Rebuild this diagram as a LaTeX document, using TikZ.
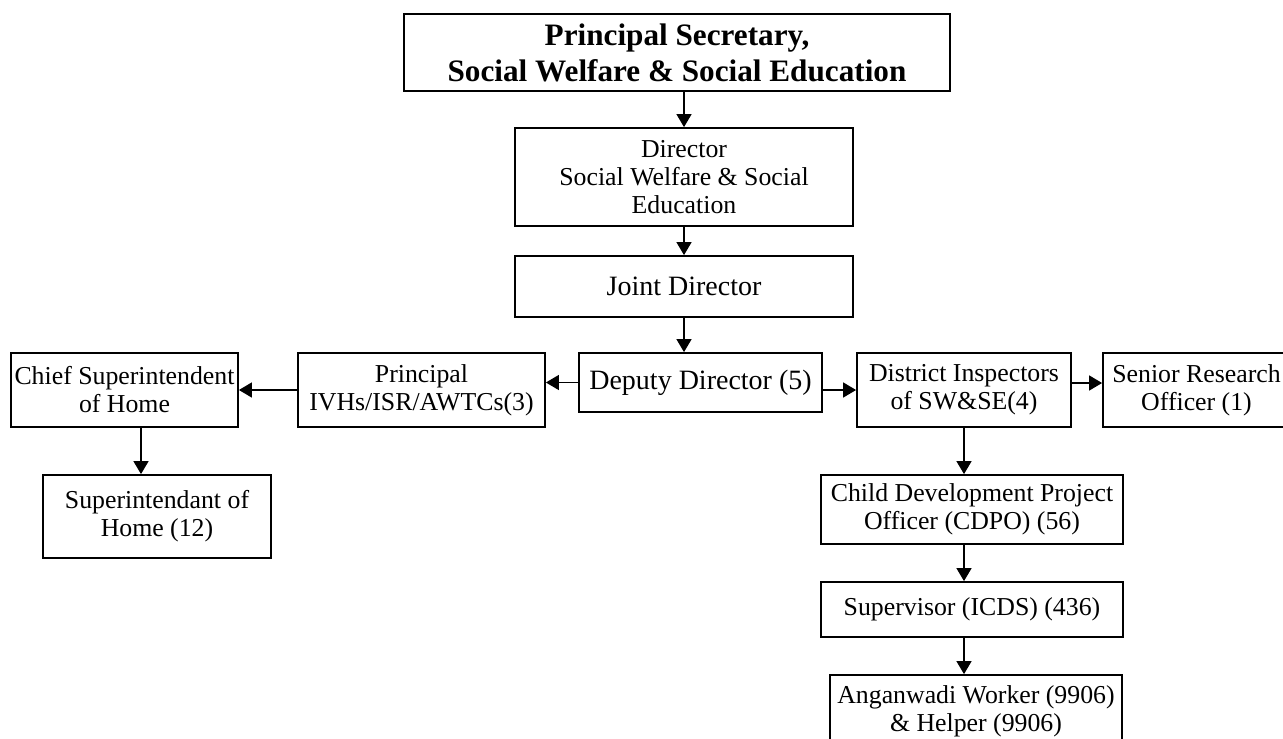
\documentclass[tikz,border=0pt]{standalone}
\usepackage{fontspec}
\setmainfont{Liberation Serif}
\usetikzlibrary{arrows.meta}

\newcommand{\boxfont}{\fontsize{12.9}{14}\selectfont}
\newcommand{\bigboxfont}{\fontsize{14}{16}\selectfont}
\newcommand{\headfont}{\fontsize{15.6}{18}\selectfont\bfseries}

\tikzset{
  post/.style={draw, line width=0.9pt, align=center, inner sep=0pt, font=\boxfont},
  link/.style={line width=0.7pt, -{Triangle[length=6.5pt,width=7.5pt]}}
}

\begin{document}
\begin{tikzpicture}[x=0.5pt,y=-0.5pt]
  \useasboundingbox (0,0) rectangle (1283,738);
  % -=-=-=-=- TOP OF THE CHAIN -=-=-=-=-
  \node[post, line width=1.2pt, font=\headfont, minimum width=273pt, minimum height=38.5pt] (sec) at (677,52.5) {Principal Secretary,\\Social Welfare \& Social Education};
  \node[post, minimum width=169pt, minimum height=49pt] (dir) at (684,177) {Director\\Social Welfare \& Social\\Education};
  \node[post, font=\bigboxfont, minimum width=169pt, minimum height=30.5pt] (joint) at (684,286.5) {Joint Director};
  \node[post, font=\bigboxfont, minimum width=121.5pt, minimum height=29.5pt] (dep) at (700.5,382.5) {Deputy Director (5)};
  % -=-=-=-=- LEFT BRANCH -=-=-=-=-
  \node[post, minimum width=123.5pt, minimum height=37pt] (prin) at (421.5,390) {Principal\\IVHs/ISR/AWTCs(3)};
  \node[post, minimum width=113.5pt, minimum height=37pt] (chief) at (124.5,390) {Chief Superintendent\\of Home};
  \node[post, minimum width=114pt, minimum height=41.5pt] (supt) at (157,516.5) {Superintendant of\\Home (12)};
  % -=-=-=-=- RIGHT BRANCH -=-=-=-=-
  \node[post, minimum width=107pt, minimum height=37pt] (dist) at (964,390) {District Inspectors\\of SW\&SE(4)};
  \node[post, minimum width=93.5pt, minimum height=37pt] (senior) at (1196.5,390) {Senior Research\\Officer (1)};
  \node[post, minimum width=151pt, minimum height=34.5pt] (cdpo) at (972,509.5) {Child Development Project\\Officer (CDPO) (56)};
  \node[post, minimum width=151pt, minimum height=27.5pt] (sup) at (972,609.5) {Supervisor (ICDS) (436)};
  \node[post, minimum width=146pt, minimum height=36.5pt] (ang) at (976,711.5) {Anganwadi Worker (9906)\\\& Helper (9906)};
  % -=-=-=-=- ARROWS -=-=-=-=-
  \draw[link] (dir.north |- sec.south) -- (dir.north);
  \draw[link] (dir.south) -- (joint.north);
  \draw[link] (joint.south) -- (joint.south |- dep.north);
  \draw[link] (dep.west) -- (prin.east |- dep.west);
  \draw[link] (prin.west) -- (chief.east);
  \draw[link] ([xshift=8.25pt]chief.south) -- ([xshift=8.25pt]chief.south |- supt.north);
  \draw[link] (dep.east |- dist.west) -- (dist.west);
  \draw[link] ([yshift=3.5pt]dist.east) -- ([yshift=3.5pt]senior.west);
  \draw[link] (dist.south) -- (dist.south |- cdpo.north);
  \draw[link] (dist.south |- cdpo.south) -- (dist.south |- sup.north);
  \draw[link] (dist.south |- sup.south) -- (dist.south |- ang.north);
\end{tikzpicture}
\end{document}
